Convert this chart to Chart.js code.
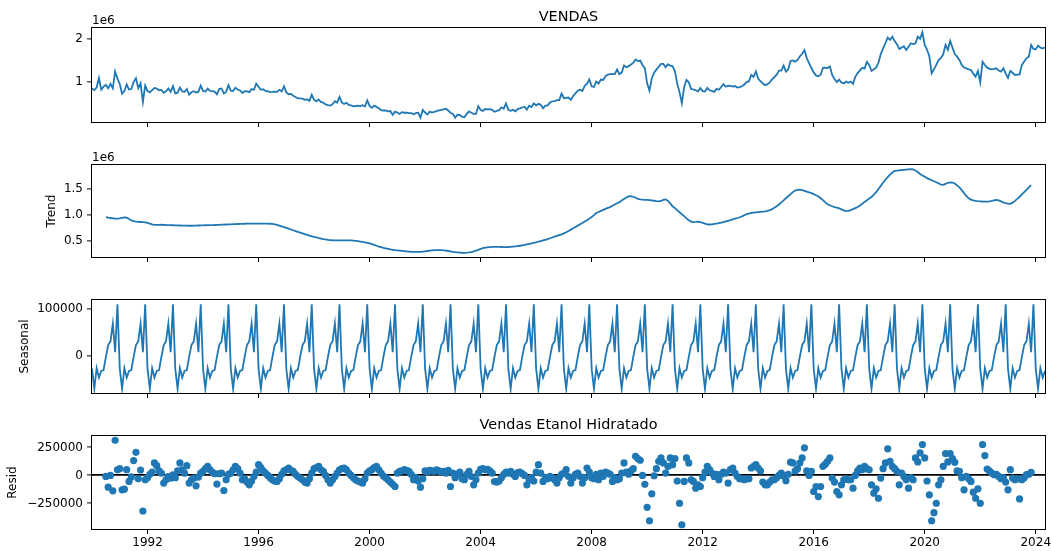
<!DOCTYPE html>
<html>
<head>
<meta charset="utf-8">
<title>VENDAS - decomposição sazonal</title>
<script src="https://cdn.jsdelivr.net/npm/chart.js@4.4.1/dist/chart.umd.min.js"></script>
<style>
    html, body { margin: 0; padding: 0; background: #fff; }
    #fig { position: relative; width: 1051px; height: 551px; }
    #fig canvas { position: absolute; left: 0; top: 0; }
</style>
</head>
<body>
<div id="fig">
    <canvas id="panel-observed" width="1051" height="551"></canvas>
    <canvas id="panel-trend" width="1051" height="551"></canvas>
    <canvas id="panel-seasonal" width="1051" height="551"></canvas>
    <canvas id="panel-resid" width="1051" height="551"></canvas>
</div>
<script>
/* ============================================
   Vendas Etanol Hidratado – seasonal decomposition
   monthly values in thousands, Jan 1990 .. May 2024
   ============================================ */

const START_YEAR = 1990;

const vendas = [
    860, 820, 880, 1100, 830, 900, 944, 863, 969, 863, 1250, 1085,
    963, 741, 799, 950, 834, 846, 1005, 1097, 862, 977, 548, 923,
    798, 770, 819, 870, 858, 816, 826, 759, 793, 859, 781, 912,
    748, 763, 877, 794, 778, 846, 717, 771, 795, 766, 785, 923,
    803, 787, 854, 804, 799, 787, 724, 844, 859, 744, 780, 934,
    809, 798, 874, 836, 812, 755, 794, 790, 775, 847, 827, 969,
    898, 829, 842, 803, 795, 776, 781, 788, 782, 829, 793, 910,
    768, 726, 734, 690, 663, 630, 629, 623, 596, 610, 573, 712,
    603, 560, 605, 544, 534, 492, 473, 464, 498, 565, 532, 664,
    537, 501, 530, 480, 471, 450, 455, 463, 453, 474, 443, 585,
    458, 413, 462, 435, 403, 362, 352, 353, 332, 339, 250, 325,
    303, 271, 314, 300, 304, 293, 292, 266, 292, 300, 186, 367,
    305, 258, 324, 304, 318, 336, 354, 367, 377, 393, 351, 301,
    275, 185, 254, 250, 202, 194, 273, 329, 299, 275, 273, 450,
    366, 342, 386, 379, 382, 367, 321, 341, 358, 425, 393, 515,
    369, 344, 366, 332, 386, 400, 421, 439, 372, 464, 433, 515,
    469, 504, 484, 403, 464, 470, 534, 563, 567, 590, 593, 740,
    633, 643, 650, 597, 686, 745, 808, 828, 802, 917, 969, 1065,
    908, 895, 1019, 970, 1063, 1055, 1143, 1178, 1191, 1190, 1188, 1296,
    1188, 1225, 1390, 1349, 1373, 1410, 1448, 1524, 1491, 1502, 1400, 1320,
    976, 811, 1089, 1223, 1293, 1358, 1424, 1424, 1350, 1419, 1384, 1371,
    1253, 970, 775, 523, 889, 1056, 1004, 849, 835, 817, 792, 870,
    798, 788, 870, 817, 803, 781, 848, 829, 893, 959, 899, 921,
    917, 901, 914, 880, 890, 910, 949, 1005, 1026, 1170, 1128, 1251,
    1089, 1025, 974, 936, 959, 1000, 1068, 1118, 1176, 1269, 1268, 1385,
    1246, 1300, 1492, 1505, 1478, 1515, 1596, 1659, 1742, 1559, 1443, 1330,
    1229, 1160, 1140, 1175, 1334, 1336, 1329, 1364, 1172, 1075, 1004, 1061,
    994, 975, 1016, 989, 1018, 966, 1128, 1213, 1277, 1334, 1318, 1471,
    1400, 1262, 1300, 1338, 1450, 1650, 1780, 1900, 2030, 1977, 2053, 1950,
    1880, 1769, 1800, 1830, 1746, 1820, 1900, 1880, 1900, 2053, 2000, 2153,
    1861, 1750, 1600, 1208, 1300, 1400, 1515, 1560, 1646, 1861, 1746, 1954,
    1800, 1650, 1592, 1515, 1400, 1340, 1323, 1300, 1285, 1200, 1131, 1262,
    1000, 1477, 1400, 1338, 1310, 1300, 1310, 1323, 1270, 1246, 1323, 1208,
    1100, 1260, 1220, 1169, 1180, 1185, 1400, 1480, 1554, 1592, 1861, 1769,
    1760, 1846, 1800, 1784, 1800
];

const trend = [
    null, null, null, null, null, null, 955, 945, 938, 932, 928, 925,
    930, 940, 948, 945, 920, 890, 875, 868, 862, 860, 858, 853,
    845, 830, 815, 805, 803, 806, 808, 805, 802, 800, 798, 797,
    795, 793, 792, 790, 790, 789, 788, 788, 789, 790, 792, 793,
    795, 797, 799, 800, 801, 802, 804, 806, 808, 810, 812, 814,
    816, 818, 820, 822, 824, 825, 826, 827, 828, 828, 829, 829,
    829, 829, 828, 828, 827, 826, 822, 815, 805, 790, 775, 760,
    745, 730, 715, 700, 685, 670, 655, 640, 625, 610, 595, 582,
    570, 560, 550, 540, 530, 522, 515, 510, 507, 505, 504, 504,
    504, 505, 506, 505, 503, 500, 496, 490, 482, 474, 465, 455,
    445, 432, 418, 400, 385, 372, 360, 350, 340, 330, 322, 314,
    310, 305, 300, 295, 291, 287, 284, 282, 281, 281, 283, 287,
    292, 298, 305, 310, 314, 316, 316, 314, 310, 304, 298, 290,
    282, 275, 270, 266, 264, 263, 265, 270, 278, 290, 305, 320,
    338, 352, 362, 370, 374, 377, 378, 378, 377, 376, 375, 375,
    376, 378, 382, 387, 393, 400, 408, 416, 425, 435, 445, 455,
    466, 478, 490, 503, 516, 530, 545, 560, 575, 590, 605, 620,
    640, 662, 686, 712, 738, 765, 790, 815, 840, 868, 895, 925,
    955, 995, 1035, 1055, 1075, 1095, 1115, 1135, 1150, 1175, 1200, 1225,
    1245, 1275, 1305, 1335, 1355, 1360, 1350, 1330, 1310, 1298, 1292, 1290,
    1288, 1286, 1280, 1272, 1265, 1262, 1270, 1290, 1298, 1270, 1220, 1165,
    1130, 1090, 1050, 1010, 975, 930, 895, 865, 858, 862, 868, 860,
    845, 828, 815, 812, 815, 822, 830, 838, 848, 860, 872, 884,
    897, 910, 924, 938, 952, 970, 990, 1012, 1025, 1035, 1040, 1045,
    1050, 1055, 1060, 1066, 1075, 1090, 1110, 1135, 1165, 1200, 1240, 1280,
    1320, 1360, 1400, 1440, 1470, 1485, 1488, 1480, 1465, 1450, 1435, 1420,
    1400, 1380, 1355, 1320, 1285, 1240, 1205, 1185, 1165, 1150, 1140, 1125,
    1105, 1085, 1072, 1075, 1090, 1110, 1130, 1150, 1180, 1215, 1250, 1280,
    1315, 1345, 1390, 1440, 1500, 1560, 1620, 1680, 1730, 1780, 1820, 1850,
    1855, 1862, 1868, 1872, 1876, 1880, 1884, 1880, 1860, 1830, 1790, 1760,
    1740, 1710, 1690, 1670, 1650, 1630, 1610, 1585, 1580, 1600, 1620, 1628,
    1625, 1605, 1570, 1530, 1480, 1420, 1365, 1320, 1295, 1280, 1270, 1265,
    1262, 1258, 1255, 1256, 1260, 1268, 1278, 1288, 1280, 1260, 1238, 1225,
    1218, 1212, 1235, 1270, 1308, 1350, 1395, 1440, 1485, 1530, 1577, null,
    null, null, null, null, null
];

const seasonal = [
    -27, -70, -26, -46, -32, -30, -2, 23, 31, 69, 8, 110,
    -27, -70, -26, -46, -32, -30, -2, 23, 31, 69, 8, 110,
    -27, -70, -26, -46, -32, -30, -2, 23, 31, 69, 8, 110,
    -27, -70, -26, -46, -32, -30, -2, 23, 31, 69, 8, 110,
    -27, -70, -26, -46, -32, -30, -2, 23, 31, 69, 8, 110,
    -27, -70, -26, -46, -32, -30, -2, 23, 31, 69, 8, 110,
    -27, -70, -26, -46, -32, -30, -2, 23, 31, 69, 8, 110,
    -27, -70, -26, -46, -32, -30, -2, 23, 31, 69, 8, 110,
    -27, -70, -26, -46, -32, -30, -2, 23, 31, 69, 8, 110,
    -27, -70, -26, -46, -32, -30, -2, 23, 31, 69, 8, 110,
    -27, -70, -26, -46, -32, -30, -2, 23, 31, 69, 8, 110,
    -27, -70, -26, -46, -32, -30, -2, 23, 31, 69, 8, 110,
    -27, -70, -26, -46, -32, -30, -2, 23, 31, 69, 8, 110,
    -27, -70, -26, -46, -32, -30, -2, 23, 31, 69, 8, 110,
    -27, -70, -26, -46, -32, -30, -2, 23, 31, 69, 8, 110,
    -27, -70, -26, -46, -32, -30, -2, 23, 31, 69, 8, 110,
    -27, -70, -26, -46, -32, -30, -2, 23, 31, 69, 8, 110,
    -27, -70, -26, -46, -32, -30, -2, 23, 31, 69, 8, 110,
    -27, -70, -26, -46, -32, -30, -2, 23, 31, 69, 8, 110,
    -27, -70, -26, -46, -32, -30, -2, 23, 31, 69, 8, 110,
    -27, -70, -26, -46, -32, -30, -2, 23, 31, 69, 8, 110,
    -27, -70, -26, -46, -32, -30, -2, 23, 31, 69, 8, 110,
    -27, -70, -26, -46, -32, -30, -2, 23, 31, 69, 8, 110,
    -27, -70, -26, -46, -32, -30, -2, 23, 31, 69, 8, 110,
    -27, -70, -26, -46, -32, -30, -2, 23, 31, 69, 8, 110,
    -27, -70, -26, -46, -32, -30, -2, 23, 31, 69, 8, 110,
    -27, -70, -26, -46, -32, -30, -2, 23, 31, 69, 8, 110,
    -27, -70, -26, -46, -32, -30, -2, 23, 31, 69, 8, 110,
    -27, -70, -26, -46, -32, -30, -2, 23, 31, 69, 8, 110,
    -27, -70, -26, -46, -32, -30, -2, 23, 31, 69, 8, 110,
    -27, -70, -26, -46, -32, -30, -2, 23, 31, 69, 8, 110,
    -27, -70, -26, -46, -32, -30, -2, 23, 31, 69, 8, 110,
    -27, -70, -26, -46, -32, -30, -2, 23, 31, 69, 8, 110,
    -27, -70, -26, -46, -32, -30, -2, 23, 31, 69, 8, 110,
    -27, -70, -26, -46, -32
];

const resid = [
    null, null, null, null, null, null, -9, -105, 0, -138, 314, 50,
    60, -129, -123, 51, -54, -14, 132, 206, -31, 48, -318, -40,
    -20, 10, 30, 111, 87, 40, 20, -69, -40, -10, -25, 5,
    -20, 40, 111, 50, 20, 87, -69, -40, -25, -93, -15, 20,
    35, 60, 81, 50, 30, 15, -78, 15, 20, -135, -40, 10,
    20, 50, 80, 60, 20, -40, -30, -60, -84, -50, -10, 30,
    96, 70, 40, 21, 0, -20, -39, -50, -54, -30, 10, 40,
    50, 66, 45, 36, 10, -10, -24, -40, -60, -69, -30, 20,
    60, 70, 81, 50, 36, 0, -40, -69, -40, -9, 20, 50,
    60, 66, 50, 21, 0, -20, -39, -50, -60, -69, -30, 20,
    40, 51, 70, 81, 50, 20, -6, -20, -39, -60, -80, -99,
    20, 36, 40, 51, 45, 36, 10, -39, -20, -50, -105, -30,
    40, 30, 45, 40, 36, 50, 40, 30, 36, 20, 45, -99,
    20, -20, 10, 30, -30, -39, 10, 36, -10, -84, -40, 20,
    55, 60, 50, 55, 40, 20, -55, -60, -50, -20, 10, 30,
    20, 36, 10, -9, 25, 30, 15, 0, -84, -40, -20, -50,
    30, 96, 20, -54, -20, -30, -9, -20, -39, -69, -20, 10,
    20, 51, -10, -69, -20, 10, 20, -10, -69, -20, 66, 30,
    -20, -30, 10, -39, 20, -10, 30, 20, 10, -54, -20, -39,
    -30, 20, 111, 30, 10, 40, 60, 171, 150, 135, 0, -80,
    -285, -405, -165, -3, 60, 126, 156, 111, 21, 80, 156, 96,
    150, -50, -249, -441, -54, 156, 111, -39, -54, -114, -84, -100,
    -20, 30, 81, 51, 20, -9, 10, -39, 10, 30, 21, -69,
    51, 66, 20, -10, -30, -30, -39, -30, -30, 66, 80, 96,
    66, 40, -60, -84, -84, -60, -40, -40, -20, 0, 20, -5,
    -47, 10, 118, 111, 40, 60, 110, 156, 246, 40, 0, 36,
    -144, -100, -189, -99, 81, 100, 126, 156, -24, -60, -144, -174,
    -84, -40, -30, -40, -40, -114, 0, 40, 66, 50, 81, 60,
    50, -84, -159, -120, -204, -24, 60, 111, 237, 126, 80, 60,
    36, -84, 21, -9, -40, -114, -20, -39, 156, 120, 201, 276,
    156, -50, -174, -405, -333, -249, -84, -39, 81, 195, 120, 195,
    150, 117, 40, 36, -20, -129, -9, -30, -54, -150, -204, -120,
    -249, 276, 177, 57, 40, 21, 6, 10, -9, -30, -20, -60,
    -129, 51, -24, -39, -30, -210, -39, -20, 6, 10, 27, null,
    null, null, null, null, null
];

const xTicks = [1992, 1996, 2000, 2004, 2008, 2012, 2016, 2020, 2024];
const xTickLabels = ['1992', '1996', '2000', '2004', '2008', '2012', '2016', '2020', '2024'];

const obsTicks = [1000, 2000];
const obsTickLabels = ['1', '2'];
const trendTicks = [500, 1000, 1500];
const trendTickLabels = ['0.5', '1.0', '1.5'];
const seasTicks = [0, 100];
const seasTickLabels = ['0', '100000'];
const residTicks = [-250, 0, 250];
const residTickLabels = ['\u2212250000', '0', '250000'];

const W = 1051, H = 551;
const PLOT_LEFT = 92, PLOT_RIGHT = 1045;
const TICK_LEN = 5;
const BLUE = '#1f77b4';

Chart.defaults.font.family = "'DejaVu Sans', sans-serif";
Chart.defaults.font.size = 12;
Chart.defaults.color = '#000';

function toPoints(arr) {
    return arr.map((v, i) => ({ x: START_YEAR + i / 12, y: v }));
}

// matplotlib style autoscale: data range plus 5% each side
function padRange(arr) {
    const v = arr.filter(x => x !== null);
    const lo = Math.min(...v), hi = Math.max(...v);
    const m = (hi - lo) * 0.05;
    return { min: lo - m, max: hi + m };
}

// axes frame + title and offset text, placed from the chart area
const framePlugin = {
    id: 'frame',
    afterDraw(chart, args, opts) {
        const { ctx, chartArea: a } = chart;
        ctx.save();
        ctx.strokeStyle = '#000';
        ctx.lineWidth = 1;
        ctx.strokeRect(a.left - 0.5, a.top - 0.5, a.right - a.left + 1, a.bottom - a.top + 1);
        ctx.fillStyle = '#000';
        if (opts.title) {
            ctx.font = "14.4px 'DejaVu Sans', sans-serif";
            ctx.textAlign = 'center';
            ctx.textBaseline = 'alphabetic';
            ctx.fillText(opts.title, (a.left + a.right) / 2, a.top - 7);
        }
        if (opts.offsetText) {
            ctx.font = "12px 'DejaVu Sans', sans-serif";
            ctx.textAlign = 'left';
            ctx.textBaseline = 'alphabetic';
            ctx.fillText(opts.offsetText, a.left, a.top - 4);
        }
        ctx.restore();
    }
};

function makePanel(id, p) {
    const xAxisH = p.showXLabels ? 20 : TICK_LEN;
    const yr = padRange(p.values);
    const isScatter = p.kind === 'scatter';

    return new Chart(document.getElementById(id), {
        type: 'line',
        data: {
            datasets: [{
                data: toPoints(p.values),
                borderColor: BLUE,
                backgroundColor: BLUE,
                borderWidth: 1.8,
                showLine: !isScatter,
                pointRadius: isScatter ? 3.6 : 0,
                pointBorderWidth: 0,
                pointBackgroundColor: BLUE,
                tension: 0,
                fill: false,
                spanGaps: false
            }]
        },
        options: {
            responsive: false,
            animation: false,
            events: [],
            layout: {
                padding: { top: p.top, bottom: H - p.bottom - xAxisH, left: p.yTitleLeft, right: W - PLOT_RIGHT }
            },
            plugins: {
                legend: { display: false },
                tooltip: { enabled: false },
                frame: { title: p.title, offsetText: p.offsetText }
            },
            scales: {
                x: {
                    type: 'linear',
                    min: START_YEAR,
                    max: START_YEAR + (vendas.length - 1) / 12,
                    afterBuildTicks: s => { s.ticks = xTicks.map(v => ({ value: v })); },
                    afterFit: s => { s.height = xAxisH; s.paddingLeft = 0; s.paddingRight = 0; },
                    grid: { drawOnChartArea: false, drawTicks: true, tickLength: TICK_LEN, tickColor: '#000', tickWidth: 1 },
                    border: { display: false },
                    ticks: {
                        display: !!p.showXLabels,
                        padding: 2,
                        maxRotation: 0,
                        autoSkip: false,
                        callback: (v, i) => xTickLabels[i]
                    }
                },
                y: {
                    type: 'linear',
                    min: yr.min,
                    max: yr.max,
                    afterBuildTicks: s => { s.ticks = p.yTicks.map(v => ({ value: v })); },
                    afterFit: s => { s.width = PLOT_LEFT - p.yTitleLeft; s.paddingTop = 0; s.paddingBottom = 0; },
                    grid: {
                        drawOnChartArea: !!p.zeroLine,
                        color: c => (c.tick && c.tick.value === 0) ? '#000' : 'rgba(0,0,0,0)',
                        lineWidth: 1.8,
                        drawTicks: true,
                        tickLength: TICK_LEN,
                        tickColor: '#000',
                        tickWidth: 1
                    },
                    border: { display: false },
                    ticks: { padding: 4, callback: (v, i) => p.yTickLabels[i] },
                    title: { display: !!p.yTitle, text: p.yTitle, padding: 0 }
                }
            }
        },
        plugins: [framePlugin]
    });
}

makePanel('panel-observed', {
    values: vendas, top: 28, bottom: 122, yTitleLeft: 0,
    yTicks: obsTicks, yTickLabels: obsTickLabels,
    title: 'VENDAS', offsetText: '1e6'
});

makePanel('panel-trend', {
    values: trend, top: 165, bottom: 257, yTitleLeft: 45,
    yTicks: trendTicks, yTickLabels: trendTickLabels,
    yTitle: 'Trend', offsetText: '1e6'
});

makePanel('panel-seasonal', {
    values: seasonal, top: 300, bottom: 393, yTitleLeft: 18,
    yTicks: seasTicks, yTickLabels: seasTickLabels,
    yTitle: 'Seasonal'
});

makePanel('panel-resid', {
    values: resid, kind: 'scatter', top: 436, bottom: 529, yTitleLeft: 6,
    yTicks: residTicks, yTickLabels: residTickLabels,
    yTitle: 'Resid', title: 'Vendas Etanol Hidratado', zeroLine: true, showXLabels: true
});
</script>
</body>
</html>
